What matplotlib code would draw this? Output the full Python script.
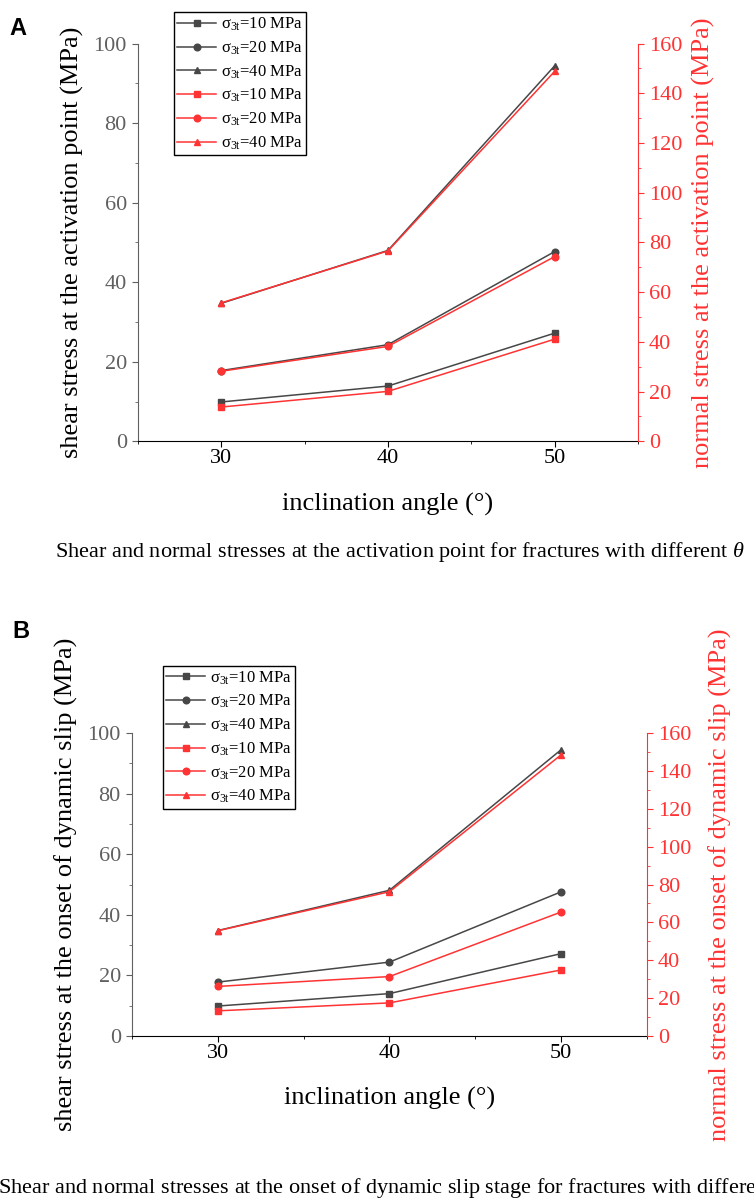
import matplotlib
matplotlib.use('Agg')
import matplotlib.pyplot as plt
from matplotlib.ticker import MultipleLocator

# ---------------- data ----------------
angles = [30, 40, 50]
sigma_labels = ['10', '20', '40']

# panel A : activation point
shearA_10 = [9.9, 13.9, 27.2]
shearA_20 = [17.8, 24.3, 47.7]
shearA_40 = [34.7, 48.0, 94.4]
normalA_10 = [13.8, 20.1, 41.1]
normalA_20 = [28.2, 38.2, 74.3]
normalA_40 = [55.7, 76.6, 148.8]

# panel B : onset of dynamic slip
shearB_10 = [9.9, 14.0, 27.2]
shearB_20 = [17.8, 24.4, 47.6]
shearB_40 = [34.8, 48.1, 94.5]
normalB_10 = [13.3, 17.5, 34.9]
normalB_20 = [26.2, 31.4, 65.5]
normalB_40 = [55.6, 76.2, 148.5]

captionA = 'Shear and normal stresses at the activation point for fractures with different $\\theta$'
captionB = 'Shear and normal stresses at the onset of dynamic slip stage for fractures with different $\\theta$'

plt.rcParams['font.family'] = ['Liberation Serif', 'DejaVu Serif']
plt.rcParams['mathtext.fontset'] = 'custom'
plt.rcParams['mathtext.rm'] = 'Liberation Serif'
plt.rcParams['mathtext.it'] = 'Liberation Serif:italic'

BLACK = '#474747'
RED = '#ff3333'
GRAY = '#606060'
markers = ['s', 'o', '^']


def draw_panel(fig, rect, shear, normal, ylab_l, ylab_r, leg_anchor, lab_pos):
    ax = fig.add_axes(rect)
    ax2 = ax.twinx()

    handles = []
    for vals, m, s in zip(shear, markers, sigma_labels):
        h, = ax.plot(angles, vals, color=BLACK, marker=m, ms=4.8, lw=1.1,
                     label='$\\mathrm{\\sigma_{3t}}$=' + s + ' MPa')
        handles.append(h)
    for vals, m, s in zip(normal, markers, sigma_labels):
        h, = ax2.plot(angles, vals, color=RED, marker=m, ms=4.8, lw=1.1,
                      label='$\\mathrm{\\sigma_{3t}}$=' + s + ' MPa')
        handles.append(h)

    ax.set_xlim(25, 55)
    ax.set_ylim(0, 100)
    ax2.set_ylim(0, 160)
    ax.xaxis.set_major_locator(MultipleLocator(10))
    ax.xaxis.set_minor_locator(MultipleLocator(5))
    ax.yaxis.set_major_locator(MultipleLocator(20))
    ax.yaxis.set_minor_locator(MultipleLocator(10))
    ax2.yaxis.set_major_locator(MultipleLocator(20))
    ax2.yaxis.set_minor_locator(MultipleLocator(10))
    ax.set_xticks([30, 40, 50])

    for a in (ax, ax2):
        a.spines['top'].set_visible(False)
    ax.spines['right'].set_visible(False)
    ax2.spines['left'].set_visible(False)
    ax2.spines['bottom'].set_visible(False)
    ax.spines['left'].set_color(GRAY)
    ax.spines['bottom'].set_color('black')
    ax2.spines['right'].set_color(RED)

    ax.tick_params(axis='y', which='both', colors=GRAY, labelsize=16, direction='out', pad=4)
    ax.tick_params(axis='y', which='major', length=4)
    ax.tick_params(axis='y', which='minor', length=2.5)
    ax.tick_params(axis='x', which='both', colors='black', labelsize=16, direction='out', pad=1.5)
    ax.tick_params(axis='x', which='major', length=4)
    ax.tick_params(axis='x', which='minor', length=2.5)
    ax2.tick_params(axis='y', which='both', colors=RED, labelsize=16, direction='out', pad=4)
    ax2.tick_params(axis='y', which='major', length=4)
    ax2.tick_params(axis='y', which='minor', length=2.5)

    ax.set_xlabel('inclination angle (°)', fontsize=19, va='center')
    ax.xaxis.set_label_coords(0.5, lab_pos[0])
    ax.set_ylabel(ylab_l, fontsize=19, va='center')
    ax.yaxis.set_label_coords(lab_pos[1], 0.5)
    ax2.set_ylabel(ylab_r, fontsize=19, color=RED, va='center')
    ax2.yaxis.set_label_coords(lab_pos[2], 0.5)

    leg = ax2.legend(handles=handles, loc='upper left', bbox_to_anchor=leg_anchor,
                     bbox_transform=fig.transFigure, borderaxespad=0, fontsize=12,
                     handlelength=2.3, handletextpad=0.3, labelspacing=0.38,
                     borderpad=0.2, fancybox=False, edgecolor='black', framealpha=1)
    leg.get_frame().set_linewidth(1.0)
    return ax, ax2


fig = plt.figure(figsize=(7.54, 11.98), dpi=100)

draw_panel(fig, [0.183, 0.6316, 0.663, 0.332],
           [shearA_10, shearA_20, shearA_40], [normalA_10, normalA_20, normalA_40],
           'shear stress at the activation point (MPa)',
           'normal stress at the activation point (MPa)',
           (0.2308, 0.9896), (-0.159, -0.132, 1.132))

draw_panel(fig, [0.175, 0.1352, 0.683, 0.2529],
           [shearB_10, shearB_20, shearB_40], [normalB_10, normalB_20, normalB_40],
           'shear stress at the onset of dynamic slip (MPa)',
           'normal stress at the onset of dynamic slip (MPa)',
           (0.2162, 0.4441), (-0.207, -0.128, 1.142))

fig.text(0.013, 0.976, 'A', fontsize=17, fontweight='bold', family='Liberation Sans',
         ha='left', va='center')
fig.text(0.016, 0.473, 'B', fontsize=17, fontweight='bold', family='Liberation Sans',
         ha='left', va='center')

fig.text(0.073, 1 - 552 / 1198, captionA, fontsize=16, ha='left', va='center')
fig.text(-0.002, 1 - 1188 / 1198, captionB, fontsize=16, ha='left', va='center')

fig.savefig('out.png', dpi=100)
